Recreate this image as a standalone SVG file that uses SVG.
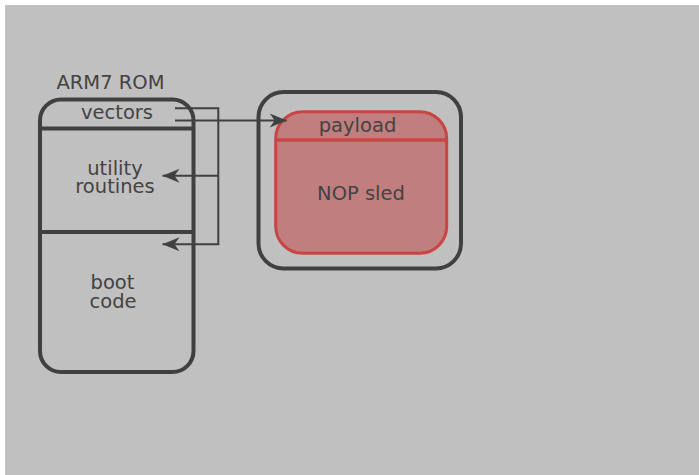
<svg xmlns="http://www.w3.org/2000/svg" width="699" height="475" viewBox="0 0 699 475">
  <style>
    .box { fill: none; stroke: #404040; stroke-width: 4; }
    .div { stroke: #404040; stroke-width: 4; }
    .lbl { font-family: "DejaVu Sans", "Liberation Sans", sans-serif; font-size: 19.5px; fill: #434343; text-anchor: middle; }
    .wire { fill: none; stroke: #404040; stroke-width: 2; }
  </style>
  <defs>
    <marker id="arrow" markerUnits="userSpaceOnUse" markerWidth="20" markerHeight="16" refX="17" refY="7" orient="auto" overflow="visible">
      <path d="M0,0 L17,7 L0,14 L5,7 Z" fill="#404040"/>
    </marker>
  </defs>

  <!-- canvas -->
  <rect x="0" y="0" width="699" height="475" fill="#ffffff"/>
  <rect x="5" y="5" width="694" height="470" fill="#c0c0c0"/>

  <!-- ROM memory map -->
  <g id="rom">
    <text class="lbl" x="110.5" y="88.5">ARM7 ROM</text>
    <rect class="box" x="40" y="99.5" width="153.5" height="272.5" rx="21" ry="21"/>
    <line class="div" x1="40" y1="128.5" x2="193.5" y2="128.5"/>
    <line class="div" x1="40" y1="232" x2="193.5" y2="232"/>
  </g>
  <g id="vectors">
    <text class="lbl" x="117" y="119">vectors</text>
  </g>
  <g id="utility">
    <text class="lbl" x="115" y="175">utility</text>
    <text class="lbl" x="115" y="193">routines</text>
  </g>
  <g id="boot">
    <text class="lbl" x="112.5" y="289">boot</text>
    <text class="lbl" x="113" y="307.5">code</text>
  </g>

  <!-- injected payload region -->
  <g id="container">
    <rect class="box" x="258.5" y="92" width="202.5" height="176.5" rx="25" ry="25"/>
  </g>
  <g id="payload">
    <rect x="275.7" y="111.7" width="171" height="141.6" rx="27" ry="27" fill="#c07e7e" stroke="#c94444" stroke-width="3"/>
    <line x1="275.7" y1="140" x2="446.7" y2="140" stroke="#c94444" stroke-width="3.5"/>
    <text class="lbl" x="357.5" y="132">payload</text>
    <text class="lbl" x="361" y="200">NOP sled</text>
  </g>

  <!-- connectors -->
  <g id="connectors">
    <path class="wire" d="M175,108.3 H218.3 V244.3 H162.5" marker-end="url(#arrow)"/>
    <path class="wire" d="M218.3,175.8 H162.5" marker-end="url(#arrow)"/>
    <path class="wire" d="M175,120.5 H286.7" marker-end="url(#arrow)"/>
  </g>
</svg>
